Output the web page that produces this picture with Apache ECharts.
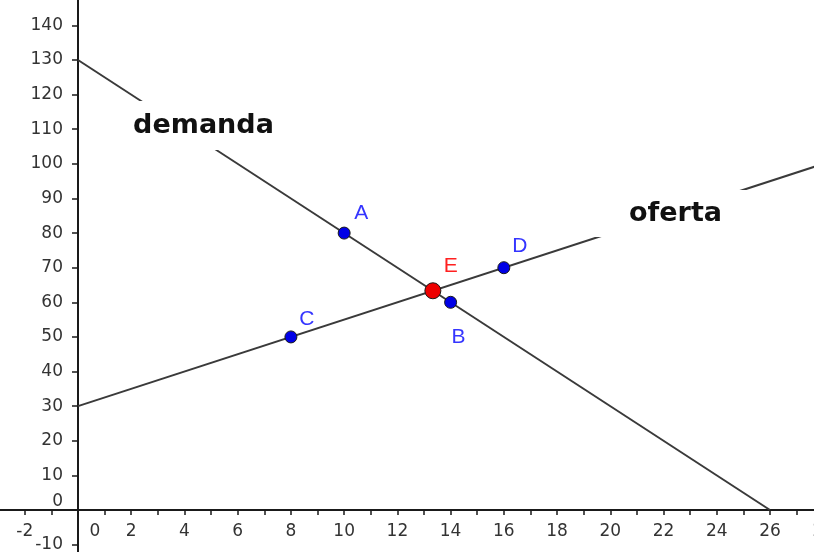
<!DOCTYPE html>
<html>
<head>
<meta charset="utf-8">
<script src="https://cdn.jsdelivr.net/npm/echarts@6/dist/echarts.min.js"></script>
<style>
html,body{margin:0;padding:0;background:#fff;}
#chart{width:814px;height:552px;}
</style>
</head>
<body>
<div id="chart"></div>
<script>
// ---- data ----
const demandLine = [[0, 130], [26, 0]];
const supplyLine = [[0, 30], [28, 100]];
const pointNames = ['A', 'B', 'C', 'D'];
const pointValues = [[10, 80], [14, 60], [8, 50], [16, 70]];
const equilibrium = { name: 'E', value: [40 / 3, 190 / 3] };
const curveLabelNames = ['demanda', 'oferta'];
const curveLabelPos = [[4.715, 111.08], [22.30, 85.66]];
const xRange = [-3, 28];
const yRange = [-20, 150];

// ---- layout / styles ----
const X0 = 78, Y0 = 510, PX = 26.615, PY = 3.4615;
const G = {
  left: X0 + xRange[0] * PX,
  top: Y0 - yRange[1] * PY,
  width: (xRange[1] - xRange[0]) * PX,
  height: (yRange[1] - yRange[0]) * PY
};
const pointLabelOffset = { A: [17, -20], B: [8, 35], C: [16, -18], D: [16, -21], E: [18, -25] };
const curveLabelPadding = { demanda: [13, 4, 8, 4], oferta: [6, 27, 13, 35] };
const tickFont = { fontFamily: 'DejaVu Sans', fontSize: 17, color: '#333' };
const axisColor = '#1a1a1a';

const chart = echarts.init(document.getElementById('chart'), null, { renderer: 'canvas' });

function gridDef(extra) {
  return Object.assign({ containLabel: false, outerBoundsMode: 'none' }, G, extra);
}
const hiddenAxis = { show: false };

const option = {
  backgroundColor: '#fff',
  animation: false,
  grid: [
    gridDef({}),                                        // data grid; axes at zero
    gridDef({ height: Y0 - G.top }),                    // bottom edge on y = 0 -> x labels
    gridDef({ left: X0, width: G.left + G.width - X0 }) // left edge on x = 0 -> y labels
  ],
  xAxis: [
    {
      gridIndex: 0, type: 'value', min: xRange[0], max: xRange[1], interval: 1,
      axisLine: { onZero: true, lineStyle: { color: axisColor, width: 2 } },
      axisTick: { show: true, length: 5, lineStyle: { color: axisColor, width: 1.5 } },
      axisLabel: { show: false }, splitLine: { show: false }
    },
    {
      gridIndex: 1, type: 'value', min: xRange[0], max: xRange[1], interval: 1, position: 'bottom',
      axisLine: { show: false, onZero: false }, axisTick: { show: false }, splitLine: { show: false },
      axisLabel: Object.assign({}, tickFont, {
        margin: 13, showMinLabel: true, showMaxLabel: true,
        formatter: function (v) {
          if (Math.abs(v % 2) === 1) return '';
          if (v === 0) return '{z|0}';
          return String(v);
        },
        rich: { z: Object.assign({}, tickFont, { padding: [0, 0, 0, 34] }) }
      })
    },
    Object.assign({ gridIndex: 2, type: 'value', min: 0, max: 1 }, hiddenAxis)
  ],
  yAxis: [
    {
      gridIndex: 0, type: 'value', min: yRange[0], max: yRange[1], interval: 10,
      axisLine: { onZero: true, lineStyle: { color: axisColor, width: 2 } },
      axisTick: { show: true, length: 6, lineStyle: { color: axisColor, width: 1.5 } },
      axisLabel: { show: false }, splitLine: { show: false }
    },
    Object.assign({ gridIndex: 1, type: 'value', min: 0, max: 1 }, hiddenAxis),
    {
      gridIndex: 2, type: 'value', min: yRange[0], max: yRange[1], interval: 10, position: 'left',
      axisLine: { show: false, onZero: false }, axisTick: { show: false }, splitLine: { show: false },
      axisLabel: Object.assign({}, tickFont, {
        margin: 15,
        formatter: function (v) {
          if (v === 0) return '{z|0}';
          return String(v);
        },
        rich: { z: Object.assign({}, tickFont, { padding: [0, 0, 16, 0] }) }
      })
    }
  ],
  series: [
    {
      type: 'line', data: demandLine, symbol: 'none', z: 2,
      lineStyle: { color: '#3a3a3a', width: 2 }
    },
    {
      type: 'line', data: supplyLine, symbol: 'none', z: 2,
      lineStyle: { color: '#3a3a3a', width: 2 }
    },
    {
      type: 'scatter', z: 3, symbolSize: 0, silent: true,
      itemStyle: { opacity: 1 },
      data: curveLabelNames.map(function (n, i) {
        return {
          name: n, value: curveLabelPos[i],
          label: {
            show: true, position: 'inside', formatter: '{b}',
            fontFamily: 'DejaVu Sans', fontWeight: 'bold', fontSize: 27, lineHeight: 28,
            color: '#111', backgroundColor: '#fff', opacity: 1,
            padding: curveLabelPadding[n]
          }
        };
      })
    },
    {
      type: 'scatter', z: 5, symbol: 'circle', symbolSize: 12,
      itemStyle: { color: '#0000e6', borderColor: '#1a1a1a', borderWidth: 1, opacity: 1 },
      data: pointNames.map(function (n, i) {
        return {
          name: n, value: pointValues[i],
          label: {
            show: true, position: 'inside', formatter: '{b}', offset: pointLabelOffset[n],
            fontFamily: 'Liberation Sans', fontSize: 21, color: '#3535ff', opacity: 1
          }
        };
      })
    },
    {
      type: 'scatter', z: 6, symbol: 'circle', symbolSize: 16,
      itemStyle: { color: '#ee0000', borderColor: '#1a1a1a', borderWidth: 1, opacity: 1 },
      data: [{
        name: equilibrium.name, value: equilibrium.value,
        label: {
          show: true, position: 'inside', formatter: '{b}', offset: pointLabelOffset.E,
          fontFamily: 'Liberation Sans', fontSize: 21, color: '#ff2020', opacity: 1
        }
      }]
    }
  ]
};
chart.setOption(option);
</script>
</body>
</html>
